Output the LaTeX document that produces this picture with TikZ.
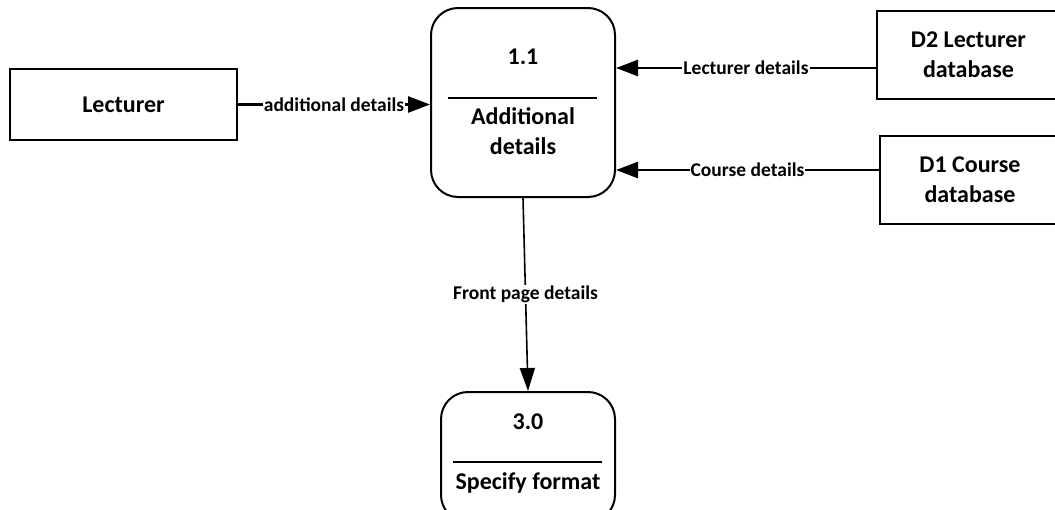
\documentclass[tikz,border=0pt]{standalone}
\usepackage{fontspec}
\setmainfont{Carlito}
\usetikzlibrary{arrows.meta}
\begin{document}
\begin{tikzpicture}[x=1pt,y=-1pt,
  boxtext/.style={font=\bfseries\fontsize{24}{30}\selectfont, align=center, inner sep=0pt},
  flowlabel/.style={font=\bfseries\fontsize{19.5}{22}\selectfont, fill=white, inner sep=1pt},
  entity/.style={draw, line width=2pt, inner sep=0pt, boxtext},
  process/.style={draw, line width=2pt, rounded corners=27pt, inner sep=0pt},
  divider/.style={line width=2.2pt},
  flow/.style={line width=2.6pt, -{Triangle[length=22pt,width=16pt]}},
  thinflow/.style={line width=1.6pt, -{Triangle[length=23pt,width=15pt]}},
]
\clip (0,0) rectangle (1055,509);

% external entity and data stores
\node[entity, minimum width=227pt, minimum height=71pt] (lect) at (123.5,104.5) {Lecturer};
\node[entity, minimum width=183pt, minimum height=88pt] (d2) at (968.5,55) {D2 Lecturer\\database};
\node[entity, minimum width=180pt, minimum height=88pt] (d1) at (970,180) {D1 Course\\database};

% process 1.1
\node[process, minimum width=184pt, minimum height=189pt] (p11) at (523,102.5) {};
\node[boxtext] (p11num) at (523,57) {1.1};
\draw[divider] (448,98) coordinate (p11dl) -- (597,98) coordinate (p11dr);
\node[boxtext] (p11name) at (523,131.5) {Additional\\details};

% process 3.0
\node[process, minimum width=174pt, minimum height=130pt] (p30) at (528,457) {};
\node[boxtext] (p30num) at (528,422) {3.0};
\draw[divider] (453,462) coordinate (p30dl) -- (602,462) coordinate (p30dr);
\node[boxtext] (p30name) at (528,483) {Specify format};

% data flows
\draw[flow] (lect.east) -- (lect.east -| p11.west)
  node[flowlabel, midway] (lab1) {additional details};
\coordinate (d2out) at ([yshift=-13pt]d2.west);
\draw[flow] (d2out) -- (d2out -| p11.east)
  node[flowlabel, midway] (lab2) {Lecturer details};
\coordinate (d1out) at ([yshift=10pt]d1.west);
\draw[flow] (d1out) -- (d1out -| p11.east)
  node[flowlabel, midway] (lab3) {Course details};
\draw[thinflow] (p11.south) -- (p30.north)
  node[flowlabel, midway] (lab4) {Front page details};
\end{tikzpicture}
\end{document}
